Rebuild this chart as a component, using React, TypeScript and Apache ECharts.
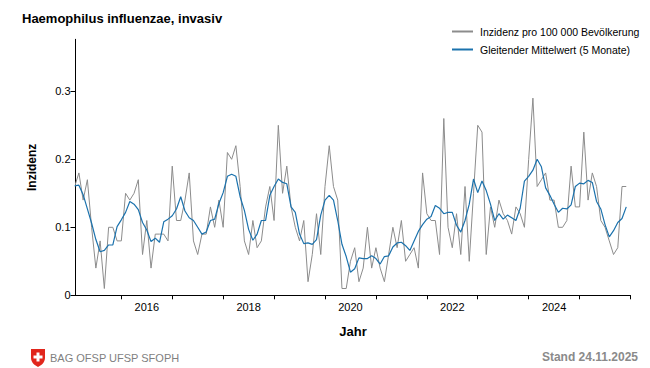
import React, { useEffect, useRef } from "react";
import * as echarts from "echarts";

// First data point: February 2015, one value per month
const startYear = 2015;
const startMonth = 2;

const incidence = [
  0.16, 0.18, 0.14, 0.17, 0.10, 0.04, 0.08, 0.01, 0.10, 0.10,
  0.08, 0.08, 0.15, 0.14, 0.15, 0.17, 0.06, 0.11, 0.04, 0.09,
  0.09, 0.09, 0.08, 0.19, 0.11, 0.11, 0.14, 0.18, 0.08, 0.06,
  0.09, 0.09, 0.13, 0.10, 0.14, 0.10, 0.21, 0.20, 0.22, 0.16,
  0.08, 0.06, 0.11, 0.07, 0.08, 0.13, 0.16, 0.11, 0.25, 0.15,
  0.19, 0.13, 0.10, 0.08, 0.11, 0.02, 0.06, 0.12, 0.06, 0.16,
  0.22, 0.16, 0.14, 0.01, 0.01, 0.05, 0.07, 0.02, 0.04, 0.10,
  0.04, 0.07, 0.04, 0.02, 0.06, 0.10, 0.07, 0.11, 0.05, 0.06,
  0.07, 0.04, 0.18, 0.12, 0.11, 0.11, 0.06, 0.26, 0.10, 0.07,
  0.12, 0.06, 0.16, 0.05, 0.15, 0.25, 0.24, 0.06, 0.13, 0.10,
  0.14, 0.12, 0.11, 0.09, 0.13, 0.12, 0.10, 0.20, 0.29, 0.16,
  0.17, 0.18, 0.14, 0.14, 0.10, 0.10, 0.11, 0.19, 0.13, 0.13,
  0.24, 0.14, 0.18, 0.16, 0.11, 0.10, 0.08, 0.06, 0.07, 0.16,
  0.16,
];

const movingAverage = [
  0.161, 0.162, 0.148, 0.127, 0.106, 0.082, 0.064, 0.066, 0.074, 0.074,
  0.101, 0.111, 0.122, 0.138, 0.134, 0.126, 0.107, 0.096, 0.079, 0.084,
  0.078, 0.108, 0.112, 0.117, 0.127, 0.145, 0.124, 0.114, 0.110, 0.100,
  0.090, 0.093, 0.110, 0.112, 0.135, 0.151, 0.175, 0.178, 0.175, 0.145,
  0.125, 0.097, 0.081, 0.090, 0.110, 0.110, 0.147, 0.160, 0.171, 0.166,
  0.164, 0.130, 0.122, 0.090, 0.076, 0.077, 0.075, 0.082, 0.118, 0.140,
  0.147, 0.140, 0.110, 0.075, 0.057, 0.034, 0.039, 0.055, 0.054, 0.054,
  0.058, 0.054, 0.046, 0.057, 0.058, 0.071, 0.077, 0.078, 0.073, 0.066,
  0.080, 0.094, 0.104, 0.112, 0.116, 0.132, 0.128, 0.120, 0.122, 0.122,
  0.103, 0.093, 0.110, 0.134, 0.171, 0.151, 0.168, 0.154, 0.134, 0.110,
  0.120, 0.112, 0.118, 0.114, 0.110, 0.128, 0.168, 0.175, 0.184, 0.200,
  0.189, 0.158, 0.147, 0.134, 0.122, 0.128, 0.127, 0.133, 0.160, 0.165,
  0.164, 0.169, 0.166, 0.138, 0.127, 0.104, 0.086, 0.095, 0.107, 0.113,
  0.130,
];

const yTicks = [0, 0.1, 0.2, 0.3];
const yearTicks = [2016, 2017, 2018, 2019, 2020, 2021, 2022, 2023, 2024, 2025, 2026];
const yearLabels = [2016, 2018, 2020, 2022, 2024];

const seriesNames = ["Inzidenz pro 100 000 Bevölkerung", "Gleitender Mittelwert (5 Monate)"];

const FONT = "'Liberation Sans', Arial, sans-serif";
const GRAY = "#8c8c8c";
const BLUE = "#1b72ad";

function monthPos(i: number): number {
  return startYear + (startMonth - 1 + i) / 12;
}

export default function App() {
  const ref = useRef<HTMLDivElement>(null);

  useEffect(() => {
    if (!ref.current) return;
    echarts.graphic.registerShape(
      "bagShield",
      echarts.graphic.extendPath(
        "M0 0 L14 0 L14 9 C14 13.5 10 16.5 7 18 C4 16.5 0 13.5 0 9 Z",
        {}
      )
    );
    const chart = echarts.init(ref.current, undefined, { renderer: "svg" });
    chart.setOption({
      animation: false,
      backgroundColor: "#ffffff",
      title: {
        text: "Haemophilus influenzae, invasiv",
        left: 22,
        top: 12,
        padding: 0,
        textStyle: { fontFamily: FONT, fontSize: 13, fontWeight: "bold", color: "#000" },
      },
      legend: {
        orient: "vertical",
        left: 452,
        top: 26,
        itemWidth: 21,
        itemHeight: 2,
        itemGap: 7,
        padding: 0,
        textStyle: { fontFamily: FONT, fontSize: 10.5, color: "#000", padding: [0, 0, 0, 2] },
        data: [
          { name: seriesNames[0], icon: "rect", itemStyle: { color: GRAY } },
          { name: seriesNames[1], icon: "rect", itemStyle: { color: BLUE } },
        ],
      },
      grid: {
        left: 75.5,
        right: 19.5,
        top: 39.3,
        bottom: 72.7,
        containLabel: false,
        outerBoundsMode: "none",
      },
      xAxis: {
        type: "value",
        min: 2015.1,
        max: 2026,
        name: "Jahr",
        nameLocation: "middle",
        nameGap: 30,
        nameTextStyle: { fontFamily: FONT, fontSize: 13, fontWeight: "bold", color: "#000" },
        axisLine: { show: true, lineStyle: { color: "#000", width: 1 } },
        axisTick: { show: true, customValues: yearTicks, length: 4, lineStyle: { color: "#000" } },
        axisLabel: {
          customValues: yearLabels.map((y) => y + 0.5),
          formatter: (v: number) => String(Math.floor(v)),
          fontFamily: FONT,
          fontSize: 11,
          color: "#000",
          margin: 6,
        },
        splitLine: { show: false },
      },
      yAxis: {
        type: "value",
        min: 0,
        max: 0.3765,
        name: "Inzidenz",
        nameLocation: "middle",
        nameGap: 38,
        nameRotate: 90,
        nameTextStyle: { fontFamily: FONT, fontSize: 12, fontWeight: "bold", color: "#000" },
        axisLine: { show: true, lineStyle: { color: "#000", width: 1 } },
        axisTick: { show: true, customValues: yTicks, length: 5, lineStyle: { color: "#000" } },
        axisLabel: {
          customValues: yTicks,
          formatter: (v: number) => (v === 0 ? "0" : v.toFixed(1)),
          fontFamily: FONT,
          fontSize: 11,
          color: "#000",
          margin: 5,
        },
        splitLine: { show: false },
      },
      series: [
        {
          name: seriesNames[0],
          type: "line",
          symbol: "none",
          data: incidence.map((v, i) => [monthPos(i), v]),
          lineStyle: { color: GRAY, width: 1 },
          itemStyle: { color: GRAY },
          z: 2,
        },
        {
          name: seriesNames[1],
          type: "line",
          symbol: "none",
          data: movingAverage.map((v, i) => [monthPos(i), v]),
          lineStyle: { color: BLUE, width: 1.2 },
          itemStyle: { color: BLUE },
          z: 3,
        },
      ],
      graphic: [
        {
          type: "bagShield",
          x: 31,
          y: 349,
          style: { fill: "#e1261c" },
        },
        { type: "rect", shape: { x: 36.5, y: 352.5, width: 3, height: 9 }, style: { fill: "#fff" } },
        { type: "rect", shape: { x: 33.5, y: 355.5, width: 9, height: 3 }, style: { fill: "#fff" } },
        {
          type: "text",
          x: 50,
          y: 357.5,
          style: {
            text: "BAG OFSP UFSP SFOPH",
            fontFamily: FONT,
            fontSize: 11,
            fill: "#7f7f7f",
            textVerticalAlign: "middle",
          },
        },
        {
          type: "text",
          x: 638,
          y: 357,
          style: {
            text: "Stand 24.11.2025",
            fontFamily: FONT,
            fontSize: 12,
            fontWeight: "bold",
            fill: "#8a8a8a",
            textAlign: "right",
            textVerticalAlign: "middle",
          },
        },
      ],
    });
    return () => chart.dispose();
  }, []);

  return (
    <div
      ref={ref}
      style={{ position: "fixed", left: 0, top: 0, width: 650, height: 368, background: "#fff" }}
    />
  );
}
